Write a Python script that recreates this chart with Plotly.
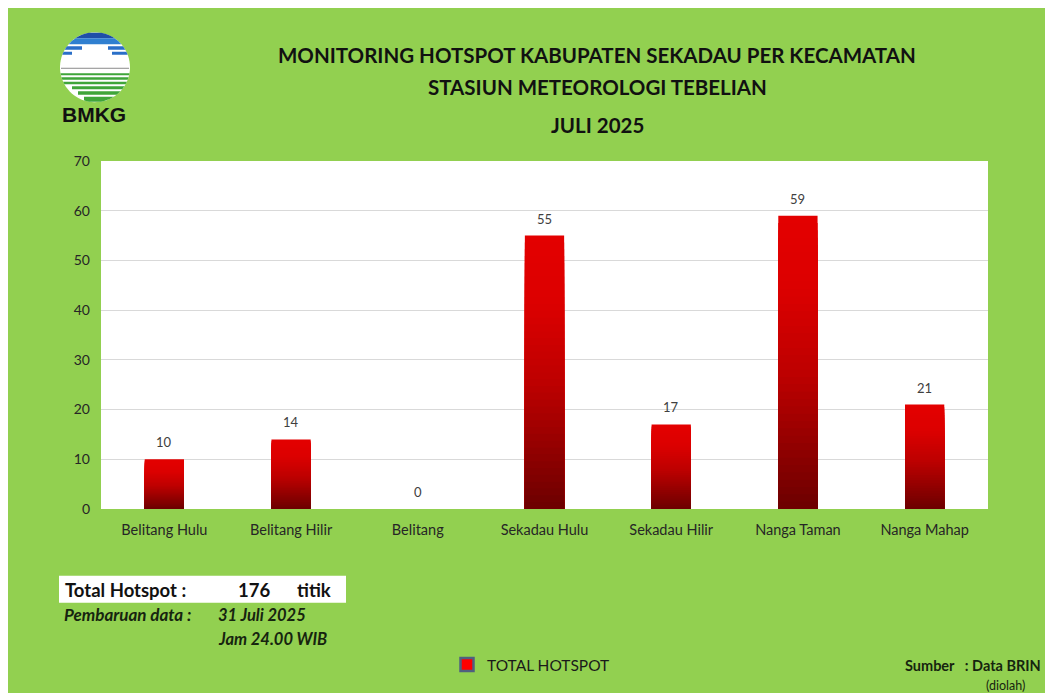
import numpy as np
import plotly.graph_objects as go

categories = ["Belitang Hulu", "Belitang Hilir", "Belitang", "Sekadau Hulu",
              "Sekadau Hilir", "Nanga Taman", "Nanga Mahap"]
hotspots = [10, 14, 0, 55, 17, 59, 21]
series_name = "TOTAL HOTSPOT"
y_ticks = [0, 10, 20, 30, 40, 50, 60, 70]
title_lines = ["MONITORING HOTSPOT KABUPATEN SEKADAU PER KECAMATAN",
               "STASIUN METEOROLOGI TEBELIAN", "JULI 2025"]
total_text = "176"

OFF = 8  # page margin offset of the rendered figure
W, H = 1053 - OFF, 693 - OFF
# plot area in reference (screen) pixels
RL, RR, RT, RB = 101, 988, 161, 510
L, R, T, B = RL - OFF, RR - OFF, RT - OFF, RB - OFF
GREEN = "#92D050"


def px(x):
    return (x - RL) / (RR - RL)


def py(y):
    return (RB - y) / (RB - RT)


fig = go.Figure()

# gradient bars via overlaid bars of decreasing height
N = 40
stops = [(0.0, (108, 0, 0)), (0.45, (188, 0, 0)), (0.75, (220, 0, 0)), (1.0, (228, 0, 0))]


def grad(f):
    for (f0, c0), (f1, c1) in zip(stops[:-1], stops[1:]):
        if f <= f1:
            t = (f - f0) / (f1 - f0)
            return "rgb(%d,%d,%d)" % tuple(int(a + (b - a) * t) for a, b in zip(c0, c1))
    return "rgb(%d,%d,%d)" % stops[-1][1]


for k in range(N, 0, -1):
    frac = k / N
    vals = [v * frac for v in hotspots]
    top = (k == N)
    fig.add_trace(go.Bar(
        x=categories, y=vals,
        marker=dict(color=grad((k - 0.5) / N), line=dict(width=0)),
        showlegend=False, hoverinfo=None if top else "skip",
        name=series_name,
    ))

# legend entry
fig.add_trace(go.Scatter(
    x=[None], y=[None], mode="markers", name=series_name,
    marker=dict(symbol="square", size=13, color="#ff0000",
                line=dict(color="#4f5f7f", width=2.5)),
))

shapes = []
# white box behind total hotspot
shapes.append(dict(type="rect", xref="paper", yref="paper", x0=px(59), x1=px(346),
                   y0=py(577), y1=py(604), fillcolor="white", line=dict(width=0), layer="above"))

# BMKG logo
cx, cy, r = 95, 67, 35


def circle_path():
    th = np.linspace(0, 2 * np.pi, 80)
    pts = [(px(cx + r * np.cos(t)), py(cy + r * np.sin(t))) for t in th]
    return "M " + " L ".join("%.5f,%.5f" % p for p in pts) + " Z"


def band_path(y1, y2, xmin=None, xmax=None):
    ys = np.linspace(y1, y2, 12)
    left, right = [], []
    for y in ys:
        d = np.sqrt(max(r * r - (y - cy) ** 2, 0))
        xl = cx - d if xmin is None else max(cx - d, xmin)
        xr = cx + d if xmax is None else min(cx + d, xmax)
        left.append((px(xl), py(y)))
        right.append((px(xr), py(y)))
    pts = right + left[::-1]
    return "M " + " L ".join("%.5f,%.5f" % p for p in pts) + " Z"


shapes.append(dict(type="path", xref="paper", yref="paper", path=circle_path(),
                   fillcolor="white", line=dict(width=0), layer="above"))
blue_bands = [(32.5, 38, "#1f4fa8", None, None), (38, 44, "#2f7fd0", None, None),
              (46, 49.5, "#2a6fc8", None, 82), (46, 49.5, "#2a6fc8", 108, None),
              (51.5, 54.5, "#2a6fc8", 112, None), (51.5, 54.5, "#2a6fc8", None, 72)]
for y1, y2, c, xm, xM in blue_bands:
    shapes.append(dict(type="path", xref="paper", yref="paper", path=band_path(y1, y2, xm, xM),
                       fillcolor=c, line=dict(width=0), layer="above"))
green_bands = [(73, 75, None), (77, 79.5, None), (81.5, 84, None), (86, 89, 72),
               (91, 94.5, 78), (96.5, 101.5, 84)]
for y1, y2, xm in green_bands:
    shapes.append(dict(type="path", xref="paper", yref="paper", path=band_path(y1, y2, xm),
                       fillcolor="#3fa53a", line=dict(width=0), layer="above"))
shapes.append(dict(type="line", xref="paper", yref="paper", x0=px(61), x1=px(129),
                   y0=py(68), y1=py(68), line=dict(color="#8a8a8a", width=1), layer="above"))

annotations = []
# data labels, placed from the data through the axes
for c, v in zip(categories, hotspots):
    annotations.append(dict(x=c, y=v, xref="x", yref="y", text=str(v), showarrow=False,
                            yanchor="bottom", yshift=7,
                            font=dict(family="Lato, Open Sans, sans-serif", size=13, color="#404040")))

title_y = [55, 87, 125]
for t, yy in zip(title_lines, title_y):
    annotations.append(dict(text="<b>%s</b>" % t, x=px(597), y=py(yy), xref="paper", yref="paper",
                            showarrow=False, xanchor="center", yanchor="middle",
                            font=dict(family="Lato, Open Sans, sans-serif", size=20.5, color="#111111")))
annotations.append(dict(text="<b>BMKG</b>", x=px(94), y=py(114), xref="paper", yref="paper",
                        showarrow=False, xanchor="center", yanchor="middle",
                        font=dict(family="Liberation Sans, Arial, sans-serif", size=21, color="#111111")))

small = "Lato, Open Sans, sans-serif"
tot = [
    dict(text="<b>Total Hotspot :</b>", x=px(63), y=py(591), xanchor="left"),
    dict(text="<b>%s</b>" % total_text, x=px(254), y=py(591), xanchor="center"),
    dict(text="<b>titik</b>", x=px(295), y=py(591), xanchor="left"),
]
for a in tot:
    a.update(xref="paper", yref="paper", showarrow=False, yanchor="middle",
             font=dict(family=small, size=18.5, color="#111111"))
    annotations.append(a)
extra = [
    dict(text="<b><i>Pembaruan data :</i></b>", x=px(62), y=py(616), size=17),
    dict(text="<b><i>31 Juli 2025</i></b>", x=px(216), y=py(616), size=16.5),
    dict(text="<b><i>Jam 24.00 WIB</i></b>", x=px(216), y=py(640), size=16.5),
    dict(text="<b>Sumber   : Data BRIN</b>", x=px(903), y=py(667), size=14.5),
    dict(text="(diolah)", x=px(984), y=py(687), size=12.5),
]
for e in extra:
    s = e.pop("size")
    e.update(xref="paper", yref="paper", showarrow=False, xanchor="left", yanchor="middle",
             font=dict(family=small, size=s, color="#16240f"))
    annotations.append(e)

fig.update_layout(
    width=W, height=H,
    margin=dict(l=L, r=W - R, t=T, b=H - B, pad=0),
    paper_bgcolor=GREEN, plot_bgcolor="white",
    barmode="overlay", bargap=0.69,
    shapes=shapes, annotations=annotations,
    showlegend=True,
    legend=dict(orientation="h", x=px(447), y=py(665), xanchor="left", yanchor="middle",
                bgcolor="rgba(0,0,0,0)", font=dict(family=small, size=15.5, color="#1a1a1a"),
                itemwidth=30),
    font=dict(family=small),
)
fig.update_xaxes(showgrid=False, showline=False, ticks="", tickfont=dict(size=14.5, color="#262626"),
                 ticklabelstandoff=10)
fig.update_yaxes(range=[0, 70], tickvals=y_ticks, showgrid=True, gridcolor="#d9d9d9", gridwidth=1,
                 zeroline=False, showline=False, ticks="", tickfont=dict(size=14, color="#262626"),
                 ticklabelstandoff=10)

fig.write_html("out.html")
